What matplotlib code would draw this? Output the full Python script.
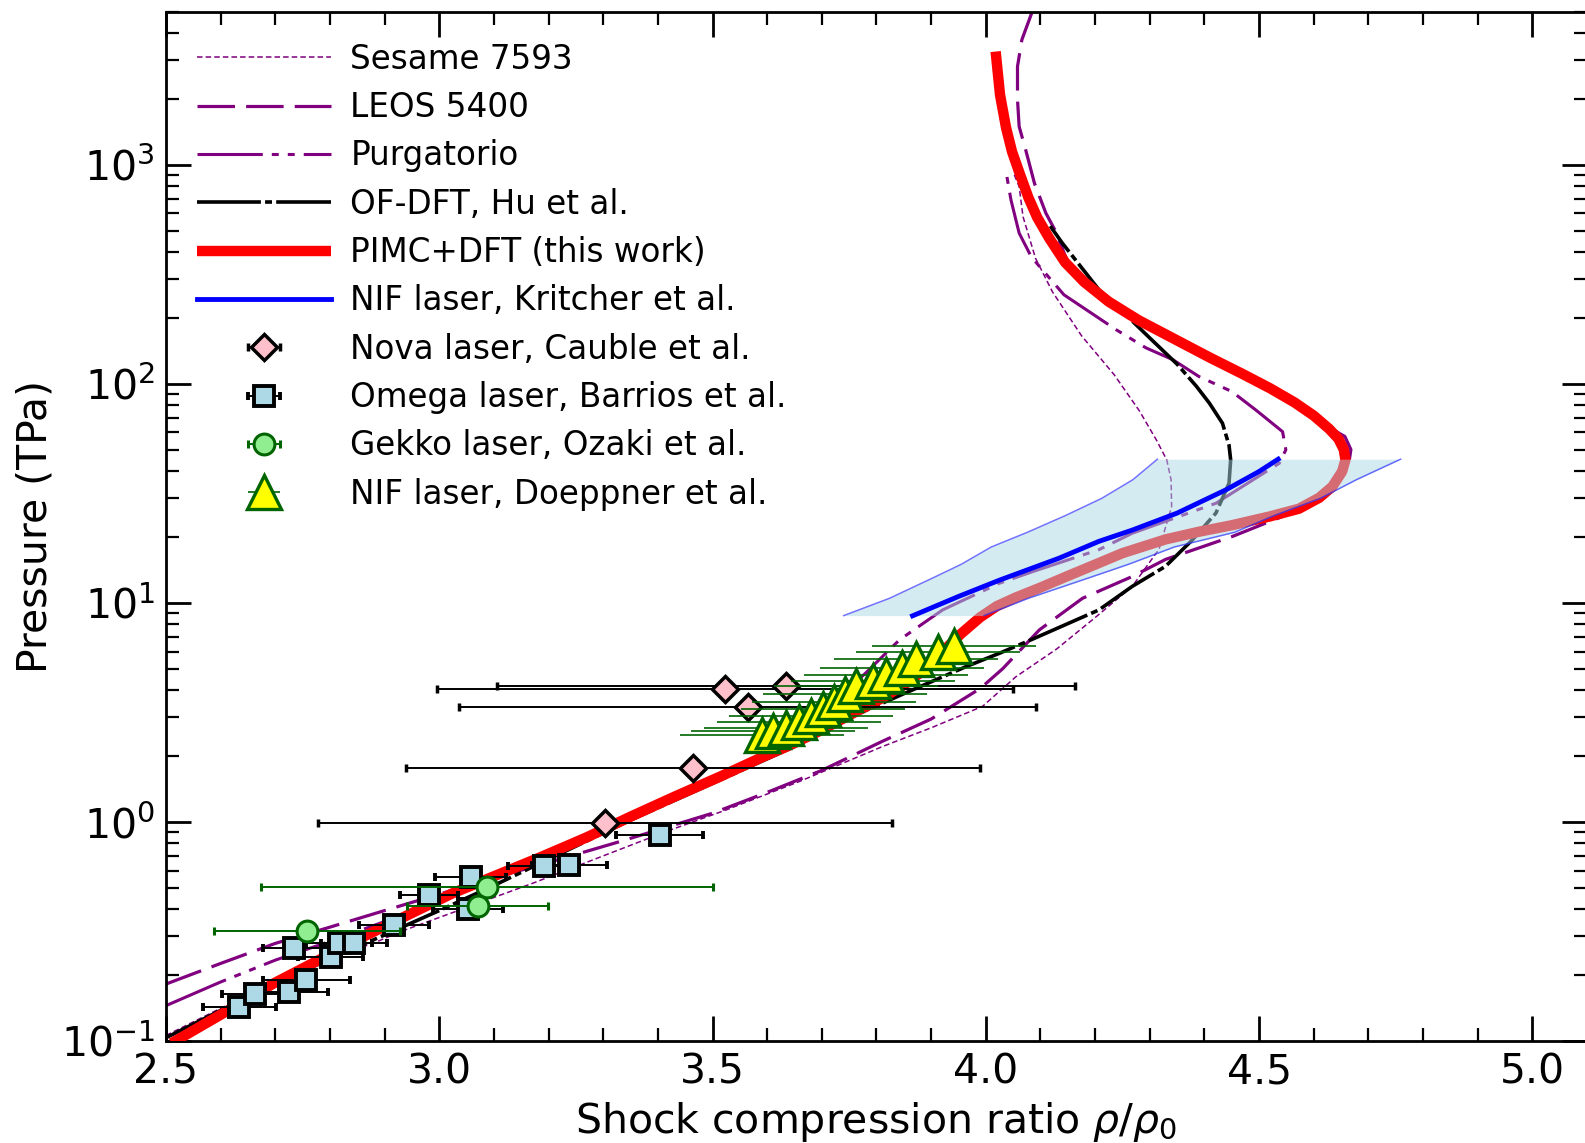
import matplotlib
matplotlib.use("Agg")
import matplotlib.pyplot as plt
from matplotlib.ticker import MultipleLocator, LogLocator, NullFormatter

plt.rcParams['lines.scale_dashes'] = False
plt.rcParams['font.family'] = ['DejaVu Sans']
plt.rcParams['mathtext.fontset'] = 'dejavusans'

# ---------------- Hugoniot curves: compression ratio and pressure (TPa) ----------------
sesame_x = [2.50, 2.60, 2.70, 2.80, 2.879, 2.928, 3.05, 3.171, 3.30, 3.415, 3.525, 3.659,
            3.811, 3.90, 3.994, 4.055, 4.130, 4.201, 4.268, 4.317, 4.340, 4.339, 4.331,
            4.312, 4.281, 4.235, 4.175, 4.122, 4.091, 4.068, 4.061, 4.052]
sesame_p = [0.106, 0.141, 0.188, 0.240, 0.279, 0.315, 0.407, 0.525, 0.700, 0.904, 1.135, 1.53,
            2.21, 2.69, 3.37, 4.60, 6.17, 8.61, 11.9, 17.6, 27.5, 36.5, 45.0,
            55.5, 75.3, 110, 166, 263, 374, 581, 796, 902]

leos_x = [2.50, 2.60, 2.70, 2.80, 2.90, 3.00, 3.10, 3.20, 3.33, 3.50, 3.60, 3.70, 3.81,
          3.90, 3.99, 4.031, 4.098, 4.177, 4.268, 4.329, 4.451, 4.573, 4.610, 4.645, 4.665,
          4.668, 4.657, 4.632, 4.600, 4.565, 4.520, 4.470, 4.410, 4.345, 4.280, 4.225,
          4.180, 4.150, 4.127, 4.110, 4.089, 4.073, 4.061, 4.058, 4.058, 4.066, 4.084, 4.090]
leos_p = [0.182, 0.226, 0.279, 0.331, 0.394, 0.468, 0.556, 0.653, 0.813, 1.096, 1.365, 1.72, 2.33,
          2.95, 4.07, 5.01, 7.53, 10.5, 13.2, 15.8, 20.1, 26.6, 30.5, 36.3, 44.7,
          50.1, 57.5, 62.4, 71.6, 82.2, 95.5, 110.9, 131.8, 160.3, 195.0, 237.1,
          291.7, 358.9, 501, 601, 824, 1169, 1496, 1982, 2812, 3724, 4932, 5250]

purg_x = [2.50, 2.60, 2.70, 2.80, 2.90, 3.00, 3.10, 3.20, 3.35, 3.50, 3.60, 3.70, 3.78,
          3.842, 3.903, 3.921, 4.025, 4.086, 4.207, 4.268, 4.421, 4.537, 4.549, 4.543,
          4.494, 4.450, 4.390, 4.342, 4.293, 4.238, 4.143, 4.098, 4.083, 4.061, 4.046, 4.037]
purg_p = [0.145, 0.186, 0.234, 0.285, 0.351, 0.442, 0.556, 0.700, 1.047, 1.55, 2.04, 3.16, 4.78,
          6.78, 8.65, 9.29, 12.3, 13.9, 17.5, 20.8, 28.5, 43.4, 50.0, 60.5,
          76.0, 92.3, 108, 129, 146, 177, 255, 344, 381, 488, 692, 931]

ofdft_x = [2.50, 2.60, 2.70, 2.80, 2.90, 3.00, 3.10, 3.20, 3.35, 3.50, 3.65, 3.75, 3.85,
           3.964, 4.025, 4.086, 4.207, 4.268, 4.329, 4.378, 4.421, 4.445, 4.448, 4.445,
           4.433, 4.409, 4.385, 4.350, 4.300, 4.262, 4.207, 4.140, 4.118]
ofdft_p = [0.1035, 0.138, 0.182, 0.237, 0.305, 0.394, 0.513, 0.676, 1.02, 1.50, 2.21, 2.99, 3.85,
           5.12, 5.89, 6.84, 9.29, 11.9, 14.7, 19.4, 25.7, 35.2, 45.0, 52.5,
           66.1, 81.7, 97.7, 123, 162, 200, 269, 439, 525]

pimc_x = [2.51, 2.60, 2.697, 2.78, 2.861, 2.94, 3.024, 3.10, 3.187, 3.27, 3.350, 3.43,
          3.514, 3.590, 3.636, 3.70, 3.763, 3.81, 3.85, 3.885, 3.915, 3.955, 3.990, 4.020,
          4.055, 4.100, 4.147, 4.200, 4.250, 4.329, 4.390, 4.451, 4.520, 4.573, 4.610,
          4.634, 4.652, 4.658, 4.655, 4.645, 4.628, 4.600, 4.565, 4.520, 4.470, 4.410,
          4.345, 4.280, 4.225, 4.180, 4.145, 4.116, 4.094, 4.078, 4.062, 4.048, 4.037,
          4.026, 4.018]
pimc_p = [0.0977, 0.1318, 0.1832, 0.2344, 0.2992, 0.3733, 0.4721, 0.5649, 0.6934, 0.8511,
          1.057, 1.303, 1.611, 1.972, 2.208, 2.630, 3.192, 3.673, 4.217, 4.898, 5.794, 7.244,
          8.610, 9.661, 10.59, 11.75, 13.18, 14.96, 16.87, 19.50, 21.13, 22.65, 24.83, 26.92,
          30.20, 33.96, 39.81, 44.98, 50.12, 56.23, 62.37, 71.61, 82.22, 95.50, 110.9, 131.8,
          160.3, 195.0, 237.1, 291.7, 358.9, 462.4, 575.4, 707.9, 912.0, 1148, 1479,
          2089, 3289]

# NIF (Kritcher et al.) fit and its uncertainty band
kritcher_x = [3.866, 3.95, 4.025, 4.134, 4.207, 4.268, 4.35, 4.439, 4.50, 4.535]
kritcher_p = [8.73, 10.7, 12.7, 16.0, 19.1, 21.5, 25.7, 32.8, 39.8, 45.3]
band_p = [8.75, 10.5, 13.0, 15.0, 18.0, 21.0, 25.0, 30.0, 36.5, 45.3]
band_lo_x = [3.740, 3.824, 3.903, 3.955, 4.010, 4.076, 4.145, 4.212, 4.269, 4.314]
band_hi_x = [3.997, 4.078, 4.188, 4.261, 4.345, 4.455, 4.527, 4.612, 4.678, 4.759]

# ---------------- Experimental points ----------------
nova_x = [3.304, 3.465, 3.522, 3.564, 3.634]
nova_p = [0.993, 1.77, 4.04, 3.36, 4.18]
nova_xerr = [0.525, 0.525, 0.527, 0.527, 0.529]

omega_x = [2.634, 2.663, 2.725, 2.757, 2.734, 2.801, 2.817, 2.844, 2.918, 2.981, 3.058,
           3.052, 3.191, 3.238, 3.403]
omega_p = [0.143, 0.164, 0.167, 0.190, 0.265, 0.241, 0.279, 0.281, 0.339, 0.464, 0.562,
           0.399, 0.632, 0.637, 0.873]
omega_xerr = [0.067, 0.060, 0.072, 0.079, 0.057, 0.060, 0.060, 0.060, 0.064, 0.053, 0.065,
              0.064, 0.065, 0.069, 0.080]

gekko_x = [2.758, 3.087, 3.070]
gekko_p = [0.319, 0.504, 0.415]
gekko_xerr = [0.170, 0.413, 0.129]

doeppner_x = [3.591, 3.610, 3.635, 3.659, 3.680, 3.702, 3.723, 3.743, 3.763, 3.793, 3.818,
              3.846, 3.872, 3.912, 3.942]
doeppner_p = [2.50, 2.61, 2.68, 2.85, 3.03, 3.28, 3.54, 3.83, 4.18, 4.40, 4.69,
              5.07, 5.55, 5.95, 6.38]
doeppner_xerr = [0.15] * len(doeppner_x)

# ---------------- Figure ----------------
fig = plt.figure(figsize=(15.85, 11.43), dpi=100)
ax = fig.add_axes([0.10473, 0.08924, 0.89653, 0.90052])
ax.set_yscale('log')

purple = '#800080'
l_ses, = ax.plot(sesame_x, sesame_p, color=purple, lw=1.1, dashes=(4, 2.2),
                 label='Sesame 7593', zorder=2)
l_leos, = ax.plot(leos_x, leos_p, color=purple, lw=2.3, dashes=(27, 8),
                  label='LEOS 5400', zorder=2)
l_purg, = ax.plot(purg_x, purg_p, color=purple, lw=2.2, dashes=(47, 6.5, 5, 6.5, 5, 6.5),
                  label='Purgatorio', zorder=2)
l_of, = ax.plot(ofdft_x, ofdft_p, color='black', lw=2.6, dashes=(46, 3, 5, 3),
                label='OF-DFT, Hu et al.', zorder=2.5)
l_pimc, = ax.plot(pimc_x, pimc_p, color='red', lw=7.5, solid_joinstyle='round',
                  solid_capstyle='butt', label='PIMC+DFT (this work)', zorder=3)

ax.fill_betweenx(band_p, band_lo_x, band_hi_x, color='lightblue', alpha=0.5, lw=0, zorder=4)
ax.plot(band_lo_x, band_p, color='blue', alpha=0.55, lw=1.1, zorder=4.5)
ax.plot(band_hi_x, band_p, color='blue', alpha=0.55, lw=1.1, zorder=4.5)
l_kri, = ax.plot(kritcher_x, kritcher_p, color='blue', lw=3.5,
                 label='NIF laser, Kritcher et al.', zorder=5)

e_nova = ax.errorbar(nova_x, nova_p, xerr=nova_xerr, fmt='D', ms=13.5, mfc='pink',
                     mec='black', mew=2.5, ecolor='black', elinewidth=1.4, capsize=3,
                     capthick=2.8, label='Nova laser, Cauble et al.', zorder=6)
e_omega = ax.errorbar(omega_x, omega_p, xerr=omega_xerr, fmt='s', ms=13.8, mfc='lightblue',
                      mec='black', mew=2.8, ecolor='black', elinewidth=1.4, capsize=3,
                      capthick=2.8, label='Omega laser, Barrios et al.', zorder=6.2)
e_gekko = ax.errorbar(gekko_x, gekko_p, xerr=gekko_xerr, fmt='o', ms=15, mfc='lightgreen',
                      mec='darkgreen', mew=2.2, ecolor='darkgreen', elinewidth=1.4, capsize=3,
                      capthick=2.8, label='Gekko laser, Ozaki et al.', zorder=6.4)
e_doep = ax.errorbar(doeppner_x, doeppner_p, xerr=doeppner_xerr, fmt='^', ms=24.5, mfc='yellow',
                     mec='darkgreen', mew=2.4, ecolor='darkgreen', elinewidth=1.2, capsize=0,
                     label='NIF laser, Doeppner et al.', zorder=6.6)

ax.set_xlim(2.5, 5.1)
ax.set_ylim(0.1, 5000)

ax.xaxis.set_major_locator(MultipleLocator(0.5))
ax.xaxis.set_minor_locator(MultipleLocator(0.1))
ax.yaxis.set_major_locator(LogLocator(base=10, numticks=20))
ax.yaxis.set_minor_locator(LogLocator(base=10, subs=range(2, 10), numticks=20))
ax.yaxis.set_minor_formatter(NullFormatter())

ax.tick_params(which='both', direction='in', top=True, right=True, labelsize=29.5, pad=8)
ax.tick_params(which='major', length=18, width=2)
ax.tick_params(which='minor', length=9.5, width=1.6)
for s in ax.spines.values():
    s.set_linewidth(2)

ax.set_xlabel(r'Shock compression ratio $\rho/\rho_0$', fontsize=29.5, labelpad=5.5)
ax.set_ylabel('Pressure (TPa)', fontsize=29.5, labelpad=4)

handles = [l_ses, l_leos, l_purg, l_of, l_pimc, l_kri, e_nova, e_omega, e_gekko, e_doep]
ax.legend(handles=handles, loc='upper left', frameon=False, fontsize=23.5,
          handlelength=4.1, handletextpad=0.6, labelspacing=0.47, borderaxespad=0.55)

fig.savefig('out.png', dpi=100)
